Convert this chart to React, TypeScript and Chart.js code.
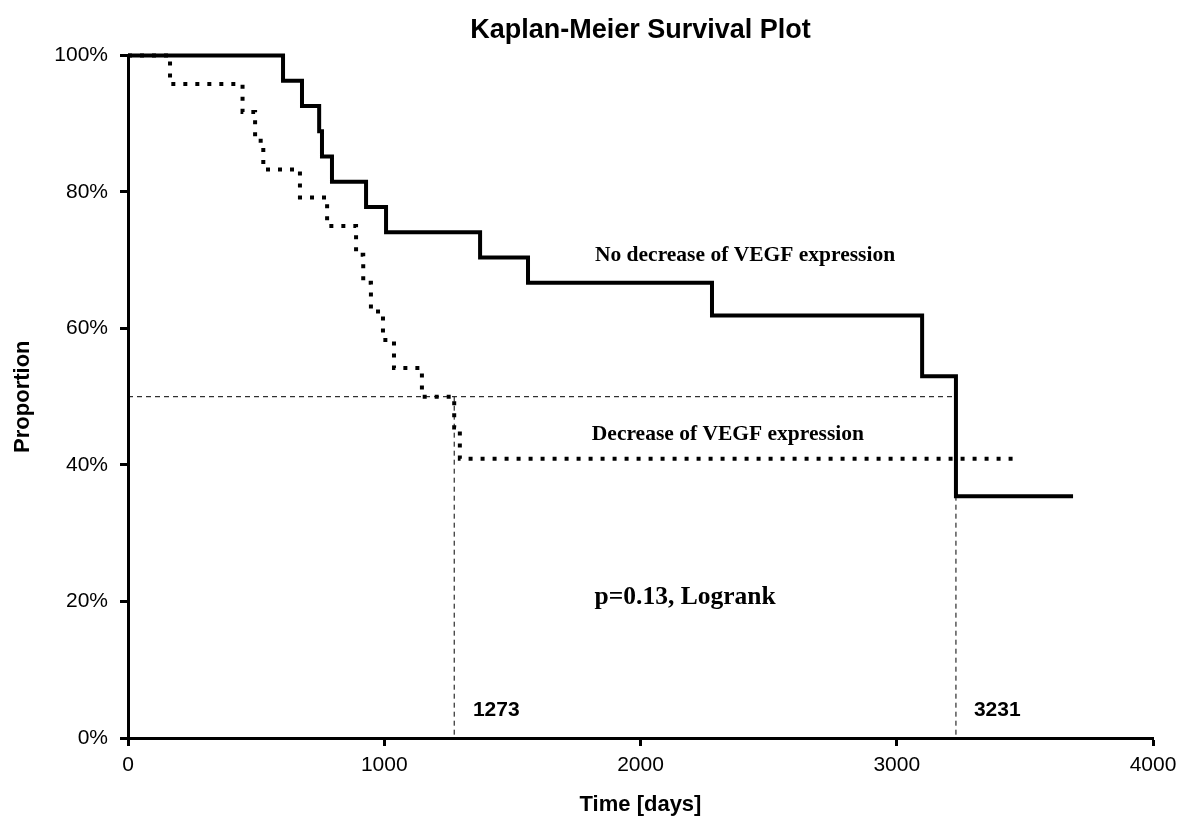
import React, { useEffect, useRef } from 'react';
import { Chart, registerables } from 'chart.js';

Chart.register(...registerables);

// ---- data ----
const noDecreaseDays = [0, 605, 679, 746, 757, 796, 929, 1007, 1374, 1561, 2279, 3099, 3231, 3688];
const noDecreaseSurvival = [100, 96.3, 92.6, 88.9, 85.2, 81.5, 77.8, 74.1, 70.4, 66.7, 61.9, 53.0, 35.4, 35.4];

const decreaseDays = [0, 164, 447, 496, 528, 671, 777, 890, 918, 948, 995, 1038, 1147, 1273, 1295, 3473];
const decreaseSurvival = [100, 95.8, 91.7, 87.5, 83.3, 79.2, 75.0, 70.8, 66.7, 62.5, 58.3, 54.2, 50.0, 45.5, 40.9, 40.9];

const medianDays = [1273, 3231];
const medianLevel = 50;

const xTicks = [0, 1000, 2000, 3000, 4000];
const yTicks = [0, 20, 40, 60, 80, 100];

const seriesLabels = ['No decrease of VEGF expression', 'Decrease of VEGF expression'];
const pValueText = 'p=0.13, Logrank';

// text annotations anchored in data coordinates (days, %)
const annotations = [
  { text: seriesLabels[0], x: 2408, y: 70.7, font: 'bold 21.5px "Liberation Serif"', align: 'center' },
  { text: seriesLabels[1], x: 2341, y: 44.4, font: 'bold 21.5px "Liberation Serif"', align: 'center' },
  { text: pValueText, x: 2174, y: 20.6, font: 'bold 25.5px "Liberation Serif"', align: 'center' },
  { text: String(medianDays[0]), x: 1346, y: 4.1, font: 'bold 21px "Liberation Sans"', align: 'left' },
  { text: String(medianDays[1]), x: 3301, y: 4.1, font: 'bold 21px "Liberation Sans"', align: 'left' },
];

const toPoints = (xs: number[], ys: number[]) => xs.map((x, i) => ({ x, y: ys[i] }));

const annotationPlugin = {
  id: 'kmAnnotations',
  afterDatasetsDraw(chart: any) {
    const { ctx, scales } = chart;
    ctx.save();
    ctx.fillStyle = '#000';
    ctx.textBaseline = 'middle';
    annotations.forEach((a) => {
      ctx.font = a.font;
      ctx.textAlign = a.align as CanvasTextAlign;
      ctx.fillText(a.text, scales.x.getPixelForValue(a.x), scales.y.getPixelForValue(a.y));
    });
    ctx.restore();
  },
};

export default function App() {
  const canvasRef = useRef<HTMLCanvasElement | null>(null);

  useEffect(() => {
    if (!canvasRef.current) return;
    const sans = 'Liberation Sans';
    const dashed = {
      borderColor: '#000',
      borderWidth: 1,
      borderDash: [5, 4],
      pointRadius: 0,
      fill: false,
      stepped: false,
    };
    const chart = new Chart(canvasRef.current, {
      type: 'line',
      data: {
        datasets: [
          {
            label: seriesLabels[0],
            data: toPoints(noDecreaseDays, noDecreaseSurvival),
            borderColor: '#000',
            borderWidth: 4,
            pointRadius: 0,
            stepped: 'before',
            fill: false,
            clip: false,
          },
          {
            label: seriesLabels[1],
            data: toPoints(decreaseDays, decreaseSurvival),
            borderColor: '#000',
            borderWidth: 4,
            borderDash: [4, 8],
            borderCapStyle: 'butt',
            pointRadius: 0,
            stepped: 'before',
            fill: false,
            clip: false,
          },
          {
            label: 'median',
            data: [{ x: xTicks[0], y: medianLevel }, { x: medianDays[1], y: medianLevel }],
            ...dashed,
          },
          {
            label: 'median1',
            data: [{ x: medianDays[0], y: medianLevel }, { x: medianDays[0], y: 0 }],
            ...dashed,
          },
          {
            label: 'median2',
            data: [{ x: medianDays[1], y: medianLevel }, { x: medianDays[1], y: 0 }],
            ...dashed,
          },
        ] as any,
      },
      options: {
        animation: false,
        responsive: false,
        maintainAspectRatio: false,
        layout: { padding: { left: 0, right: 26, top: 0, bottom: 0 } },
        plugins: {
          legend: { display: false },
          tooltip: { enabled: false },
          title: {
            display: true,
            fullSize: false,
            text: 'Kaplan-Meier Survival Plot',
            color: '#000',
            font: { family: sans, size: 27, weight: 'bold' },
            padding: { top: 14, bottom: 9 },
          },
        },
        scales: {
          x: {
            type: 'linear',
            min: xTicks[0],
            max: xTicks[xTicks.length - 1],
            afterFit: (s: any) => {
              s.height = 79;
              s.paddingLeft = 0;
              s.paddingRight = 0;
            },
            ticks: {
              stepSize: xTicks[1] - xTicks[0],
              color: '#000',
              font: { family: sans, size: 21 },
              padding: 7,
              maxRotation: 0,
              callback: (v: any) => String(v),
            },
            grid: { display: true, drawOnChartArea: false, drawTicks: true, tickLength: 8, tickWidth: 3, tickColor: '#000' },
            border: { display: true, color: '#000', width: 3 },
            title: {
              display: true,
              text: 'Time [days]',
              color: '#000',
              font: { family: sans, size: 22, weight: 'bold', lineHeight: 1.1 },
              padding: { top: 0, bottom: 0 },
            },
          },
          y: {
            type: 'linear',
            min: yTicks[0],
            max: yTicks[yTicks.length - 1],
            afterFit: (s: any) => {
              s.width = 128;
            },
            ticks: {
              stepSize: yTicks[1] - yTicks[0],
              color: '#000',
              font: { family: sans, size: 21 },
              padding: 12,
              callback: (v: any) => v + '%',
            },
            grid: { display: true, drawOnChartArea: false, drawTicks: true, tickLength: 8, tickWidth: 3, tickColor: '#000' },
            border: { display: true, color: '#000', width: 3 },
            title: {
              display: true,
              text: 'Proportion',
              color: '#000',
              font: { family: sans, size: 22, weight: 'bold' },
              padding: { top: 10, bottom: 0 },
            },
          },
        },
      } as any,
      plugins: [annotationPlugin],
    });
    return () => chart.destroy();
  }, []);

  return (
    <div style={{ position: 'absolute', left: 0, top: 0, width: 1179, height: 817, background: '#fff' }}>
      <canvas ref={canvasRef} width={1179} height={817} style={{ display: 'block' }} />
    </div>
  );
}
